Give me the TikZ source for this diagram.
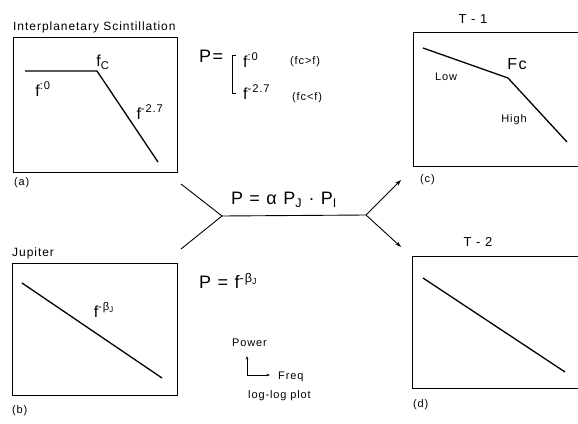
\documentclass[tikz,border=0pt]{standalone}
\usepackage{fontspec}
\setmainfont{Liberation Sans}[LetterSpace=8]
\usetikzlibrary{arrows.meta, positioning}

\begin{document}
\begin{tikzpicture}[x=1pt, y=-1pt,
  >={Stealth[length=6pt, width=4pt]},
  plotbox/.style={draw, line width=1.3pt, anchor=north west, inner sep=0pt},
  trace/.style={line width=1.3pt},
  conn/.style={line width=0.9pt},
  small/.style={->, >={Stealth[length=3.5pt, width=2.5pt]}, line width=0.8pt},
  title/.style={font=\fontsize{12}{14}\selectfont, inner sep=0pt},
  tag/.style={font=\fontsize{11}{13}\selectfont, inner sep=0pt},
  lbl/.style={font=\fontsize{13}{15}\selectfont, inner sep=0pt},
  pw/.style={font=\fontsize{16}{18}\selectfont, inner sep=0pt},
  eq/.style={font=\fontsize{18}{20}\selectfont, inner sep=0pt}]
  \useasboundingbox (0,0) rectangle (578,423);

  % plot frames
  \node[plotbox, minimum width=164pt, minimum height=135pt] (boxA) at (13,37) {};
  \node[plotbox, minimum width=165pt, minimum height=132pt] (boxB) at (12,263) {};
  \node[plotbox, minimum width=175pt, minimum height=134pt] (boxC) at (413,32) {};
  \node[plotbox, minimum width=175pt, minimum height=132pt] (boxD) at (412,256) {};

  % titles and tags
  \node[title, anchor=south west] (ipsT) at (13,33) {Interplanetary Scintillation};
  \node[title, anchor=south west] (jupT) at (12,259) {Jupiter};
  \node[lbl, anchor=south] (t1) at (473,24) {T - 1};
  \node[lbl, anchor=south] (t2) at (478,247) {T - 2};
  \node[tag, anchor=west] (tagA) at (14,183) {(a)};
  \node[tag, anchor=west] (tagB) at (12,411) {(b)};
  \node[tag, anchor=west] (tagC) at (420,180) {(c)};
  \node[tag, anchor=west] (tagD) at (413,405) {(d)};

  % (a) scintillation spectrum
  \draw[trace] (25,71) -- (97,71) -- (158,162);
  \node[pw] (fcA) at (103,62) {f\textsubscript{C}};
  \node[pw] (flatA) at (43,89) {f\textsuperscript{:0}};
  \node[pw] (steepA) at (150,112) {f\textsuperscript{-2.7}};

  % (b) Jupiter spectrum
  \draw[trace] (22,283) -- (162,378);
  \node[pw] (slopeB) at (104,310) {f\textsuperscript{-β\textsubscript{J}}};

  % (c) two slopes
  \draw[trace] (423,48) -- (508,78) -- (567,142);
  \node[pw] (fcC) at (517,64) {Fc};
  \node[tag] (lowC) at (446,77) {Low};
  \node[tag] (highC) at (514,120) {High};

  % (d) single slope
  \draw[trace] (423,278) -- (565,372);

  % formulas
  \node[eq, anchor=west] (pIps) at (199,56) {P=};
  \draw[conn] (236,55) -- (232,55) -- (232,93) -- (236,93);
  \node[pw, anchor=west] (pLow) at (243,60) {f\textsuperscript{:0}};
  \node[tag, anchor=west] (cLow) at (290,62) {(fc>f)};
  \node[pw, anchor=west] (pHigh) at (243,92) {f\textsuperscript{-2.7}};
  \node[tag, anchor=west] (cHigh) at (292,98) {(fc<f)};
  \node[eq] (pTot) at (284,200) {P = α P\textsubscript{J} · P\textsubscript{I}};
  \node[eq, anchor=west] (pJup) at (199,281) {P = f\textsuperscript{-β\textsubscript{J}}};

  % combining connector
  \coordinate (inA) at (181,184);
  \coordinate (inB) at (181,249);
  \coordinate (jL) at (222,216);
  \coordinate (jR) at (366,215);
  \coordinate (outC) at (401,180);
  \coordinate (outD) at (401,247);
  \draw[conn] (inA) -- (jL) -- (inB);
  \draw[conn] (jL) -- (jR);
  \draw[conn, ->] (jR) -- (outC);
  \draw[conn, ->] (jR) -- (outD);

  % axes legend
  \node[tag, anchor=west] (pow) at (232,343) {Power};
  \coordinate (org) at (247,375);
  \coordinate (axUp) at (247,356);
  \coordinate (axRt) at (270,375);
  \draw[small] (org) -- (axUp);
  \draw[small] (org) -- (axRt);
  \node[tag, anchor=west] (frq) at (278,377) {Freq};
  \node[tag, anchor=west] (llp) at (248,396) {log-log plot};
\end{tikzpicture}
\end{document}
